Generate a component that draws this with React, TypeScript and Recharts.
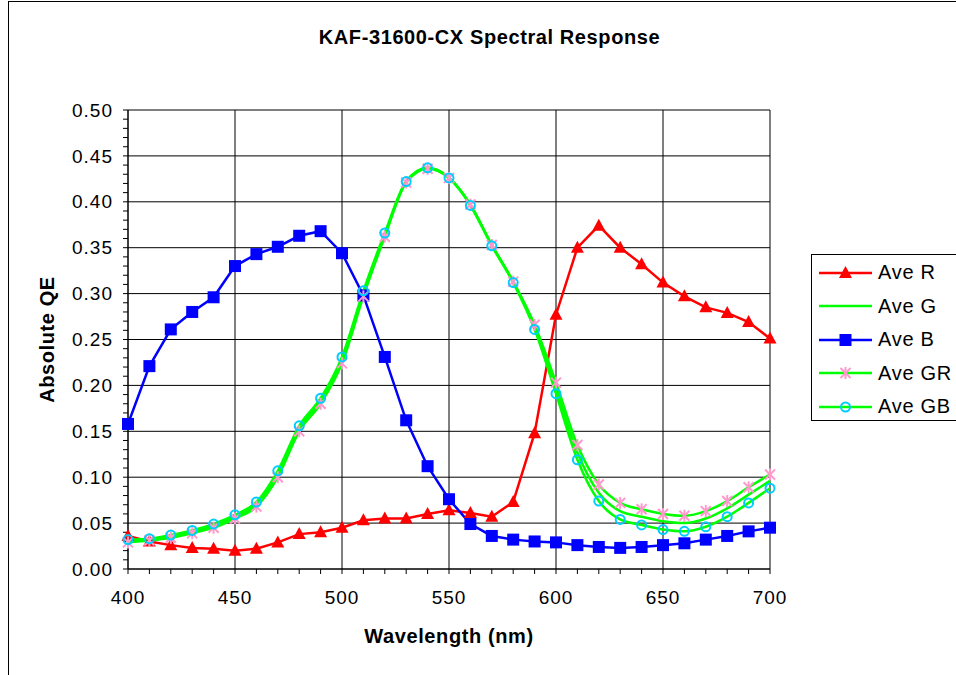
import { LineChart, Line, XAxis, YAxis, CartesianGrid, Legend } from "recharts";

const wavelengths = [
  400, 410, 420, 430, 440, 450, 460, 470, 480, 490, 500, 510, 520, 530, 540, 550,
  560, 570, 580, 590, 600, 610, 620, 630, 640, 650, 660, 670, 680, 690, 700,
];

const aveR = [
  0.036, 0.03, 0.026, 0.023, 0.022, 0.02, 0.022, 0.029, 0.038, 0.04, 0.045, 0.053,
  0.055, 0.055, 0.06, 0.064, 0.061, 0.057, 0.073, 0.148, 0.277, 0.35, 0.374, 0.35,
  0.332, 0.312, 0.297, 0.285, 0.279, 0.269, 0.251,
];

const aveG = [
  0.031, 0.032, 0.036, 0.041, 0.047, 0.057, 0.071, 0.104, 0.153, 0.183, 0.228, 0.3,
  0.364, 0.422, 0.437, 0.426, 0.397, 0.353, 0.313, 0.264, 0.197, 0.127, 0.083, 0.063,
  0.057, 0.052, 0.05, 0.055, 0.066, 0.081, 0.096,
];

const aveB = [
  0.158, 0.221, 0.261, 0.28, 0.296, 0.33, 0.343, 0.351, 0.363, 0.368, 0.344, 0.298,
  0.231, 0.162, 0.112, 0.076, 0.049, 0.036, 0.032, 0.03, 0.029, 0.026, 0.024, 0.023,
  0.024, 0.026, 0.028, 0.032, 0.036, 0.041, 0.045,
];

const aveGR = [
  0.029, 0.031, 0.034, 0.039, 0.045, 0.055, 0.068, 0.1, 0.15, 0.18, 0.224, 0.297,
  0.362, 0.421, 0.436, 0.426, 0.397, 0.353, 0.313, 0.266, 0.203, 0.135, 0.092, 0.072,
  0.065, 0.06, 0.058, 0.063, 0.074, 0.089, 0.103,
];

const aveGB = [
  0.032, 0.033, 0.037, 0.042, 0.049, 0.059, 0.073, 0.107, 0.156, 0.186, 0.231, 0.303,
  0.366, 0.422, 0.437, 0.426, 0.396, 0.352, 0.312, 0.261, 0.191, 0.119, 0.074, 0.054,
  0.048, 0.043, 0.041, 0.046, 0.057, 0.072, 0.088,
];

const xMajor = [400, 450, 500, 550, 600, 650, 700];
const yMajor = [0, 0.05, 0.1, 0.15, 0.2, 0.25, 0.3, 0.35, 0.4, 0.45, 0.5];
const yMinor = Array.from({ length: 51 }, (_, i) => Math.round(i) / 100);

const data = wavelengths.map((w, i) => ({
  w,
  r: aveR[i],
  g: aveG[i],
  b: aveB[i],
  gr: aveGR[i],
  gb: aveGB[i],
}));

const FONT = '"Liberation Sans", Arial, sans-serif';
const RED = "#FF0000";
const GREEN = "#00FF00";
const BLUE = "#0000FF";
const PINK = "#FF99CC";
const CYAN = "#00CCFF";

const Tri = ({ cx, cy }: any) => (
  <polygon points={`${cx},${cy - 7} ${cx + 6.5},${cy + 5} ${cx - 6.5},${cy + 5}`} fill={RED} />
);
const Sq = ({ cx, cy }: any) => <rect x={cx - 6} y={cy - 6} width={12} height={12} fill={BLUE} />;
const Star = ({ cx, cy }: any) => (
  <g stroke={PINK} strokeWidth={2}>
    <line x1={cx} y1={cy - 6} x2={cx} y2={cy + 6} />
    <line x1={cx - 5} y1={cy - 5} x2={cx + 5} y2={cy + 5} />
    <line x1={cx - 5} y1={cy + 5} x2={cx + 5} y2={cy - 5} />
  </g>
);
const Ring = ({ cx, cy }: any) => <circle cx={cx} cy={cy} r={4.5} fill="none" stroke={CYAN} strokeWidth={2} />;

const legendItems = [
  { name: "Ave R", color: RED, Marker: Tri },
  { name: "Ave G", color: GREEN, Marker: null },
  { name: "Ave B", color: BLUE, Marker: Sq },
  { name: "Ave GR", color: GREEN, Marker: Star },
  { name: "Ave GB", color: GREEN, Marker: Ring },
];

const renderLegend = () => (
  <div
    style={{
      border: "1px solid #000",
      borderRight: "none",
      height: 167,
      boxSizing: "border-box",
      paddingTop: 1,
      background: "#fff",
    }}
  >
    {legendItems.map(({ name, color, Marker }) => (
      <div key={name} style={{ height: 33.5, display: "flex", alignItems: "center" }}>
        <svg width={66} height={20} style={{ flex: "none" }}>
          <line x1={7} y1={10} x2={60} y2={10} stroke={color} strokeWidth={2.5} />
          {Marker && <Marker cx={33.5} cy={10} />}
        </svg>
        <span style={{ fontFamily: FONT, fontSize: 20, letterSpacing: 0.7, color: "#000" }}>{name}</span>
      </div>
    ))}
  </div>
);

const XTick = (p: any) => {
  const v = p.payload.value;
  if (v % 50 !== 0) return <g />;
  return (
    <text x={p.x} y={p.y} dy="0.71em" textAnchor="middle" fontFamily={FONT} fontSize={19} letterSpacing={1} fill="#000">
      {v}
    </text>
  );
};

const YTick = (p: any) => {
  const v = p.payload.value;
  if (Math.round(v * 100) % 5 !== 0) return <g />;
  return (
    <text x={p.x} y={p.y} dy="0.35em" textAnchor="end" fontFamily={FONT} fontSize={19} letterSpacing={1} fill="#000">
      {v.toFixed(2)}
    </text>
  );
};

const YLabel = (p: any) => {
  const vb = p.viewBox;
  const cx = 47;
  const cy = vb.y + vb.height / 2;
  return (
    <text
      x={cx}
      y={cy}
      transform={`rotate(-90 ${cx} ${cy})`}
      textAnchor="middle"
      dominantBaseline="central"
      fontFamily={FONT}
      fontSize={20}
      fontWeight="bold"
      letterSpacing={0.6}
      fill="#000"
    >
      Absolute QE
    </text>
  );
};

export default function App() {
  return (
    <div style={{ position: "absolute", left: 0, top: 0, width: 956, height: 675, overflow: "hidden", background: "#fff" }}>
      <div
        style={{
          position: "absolute",
          left: 8,
          top: 1,
          width: 970,
          height: 700,
          borderLeft: "1px solid #000",
          borderTop: "1px solid #000",
        }}
      />
      <div
        style={{
          position: "absolute",
          left: 0,
          top: 26,
          width: 979,
          textAlign: "center",
          fontFamily: FONT,
          fontWeight: "bold",
          fontSize: 20,
          letterSpacing: 0.6,
          color: "#000",
        }}
      >
        KAF-31600-CX Spectral Response
      </div>
      <div style={{ position: "absolute", left: 0, top: 0 }}>
        <LineChart width={956} height={675} data={data} margin={{ top: 110, right: 186, bottom: 26, left: 30 }}>
          <CartesianGrid stroke="#000" strokeWidth={1} horizontalValues={yMajor} verticalValues={xMajor} />
          <XAxis
            dataKey="w"
            type="number"
            domain={[400, 700]}
            ticks={wavelengths}
            interval={0}
            height={80}
            axisLine={{ stroke: "#000" }}
            tickLine={{ stroke: "#000" }}
            tickSize={5}
            tickMargin={17}
            tick={XTick}
            label={{
              value: "Wavelength (nm)",
              position: "insideBottom",
              offset: 6,
              fontFamily: FONT,
              fontSize: 20,
              fontWeight: "bold",
              letterSpacing: 0.6,
              fill: "#000",
            }}
          />
          <YAxis
            type="number"
            domain={[0, 0.5]}
            ticks={yMinor}
            interval={0}
            width={98}
            axisLine={{ stroke: "#000" }}
            tickLine={{ stroke: "#000" }}
            tickSize={5}
            tickMargin={10}
            tick={YTick}
            label={{ content: YLabel }}
          />
          <Legend
            layout="vertical"
            align="center"
            verticalAlign="middle"
            content={renderLegend}
            wrapperStyle={{ left: 811, top: 254, width: 145 }}
          />
          <Line
            dataKey="r"
            name="Ave R"
            stroke={RED}
            strokeWidth={2.5}
            isAnimationActive={false}
            dot={(p: any) => <Tri key={`r${p.index}`} cx={p.cx} cy={p.cy} />}
            activeDot={false}
          />
          <Line
            dataKey="g"
            name="Ave G"
            type="monotone"
            stroke={GREEN}
            strokeWidth={2.5}
            isAnimationActive={false}
            dot={false}
            activeDot={false}
          />
          <Line
            dataKey="b"
            name="Ave B"
            stroke={BLUE}
            strokeWidth={2.5}
            isAnimationActive={false}
            dot={(p: any) => <Sq key={`b${p.index}`} cx={p.cx} cy={p.cy} />}
            activeDot={false}
          />
          <Line
            dataKey="gr"
            name="Ave GR"
            type="monotone"
            stroke={GREEN}
            strokeWidth={2.5}
            isAnimationActive={false}
            dot={(p: any) => <Star key={`gr${p.index}`} cx={p.cx} cy={p.cy} />}
            activeDot={false}
          />
          <Line
            dataKey="gb"
            name="Ave GB"
            type="monotone"
            stroke={GREEN}
            strokeWidth={2.5}
            isAnimationActive={false}
            dot={(p: any) => <Ring key={`gb${p.index}`} cx={p.cx} cy={p.cy} />}
            activeDot={false}
          />
        </LineChart>
      </div>
    </div>
  );
}
